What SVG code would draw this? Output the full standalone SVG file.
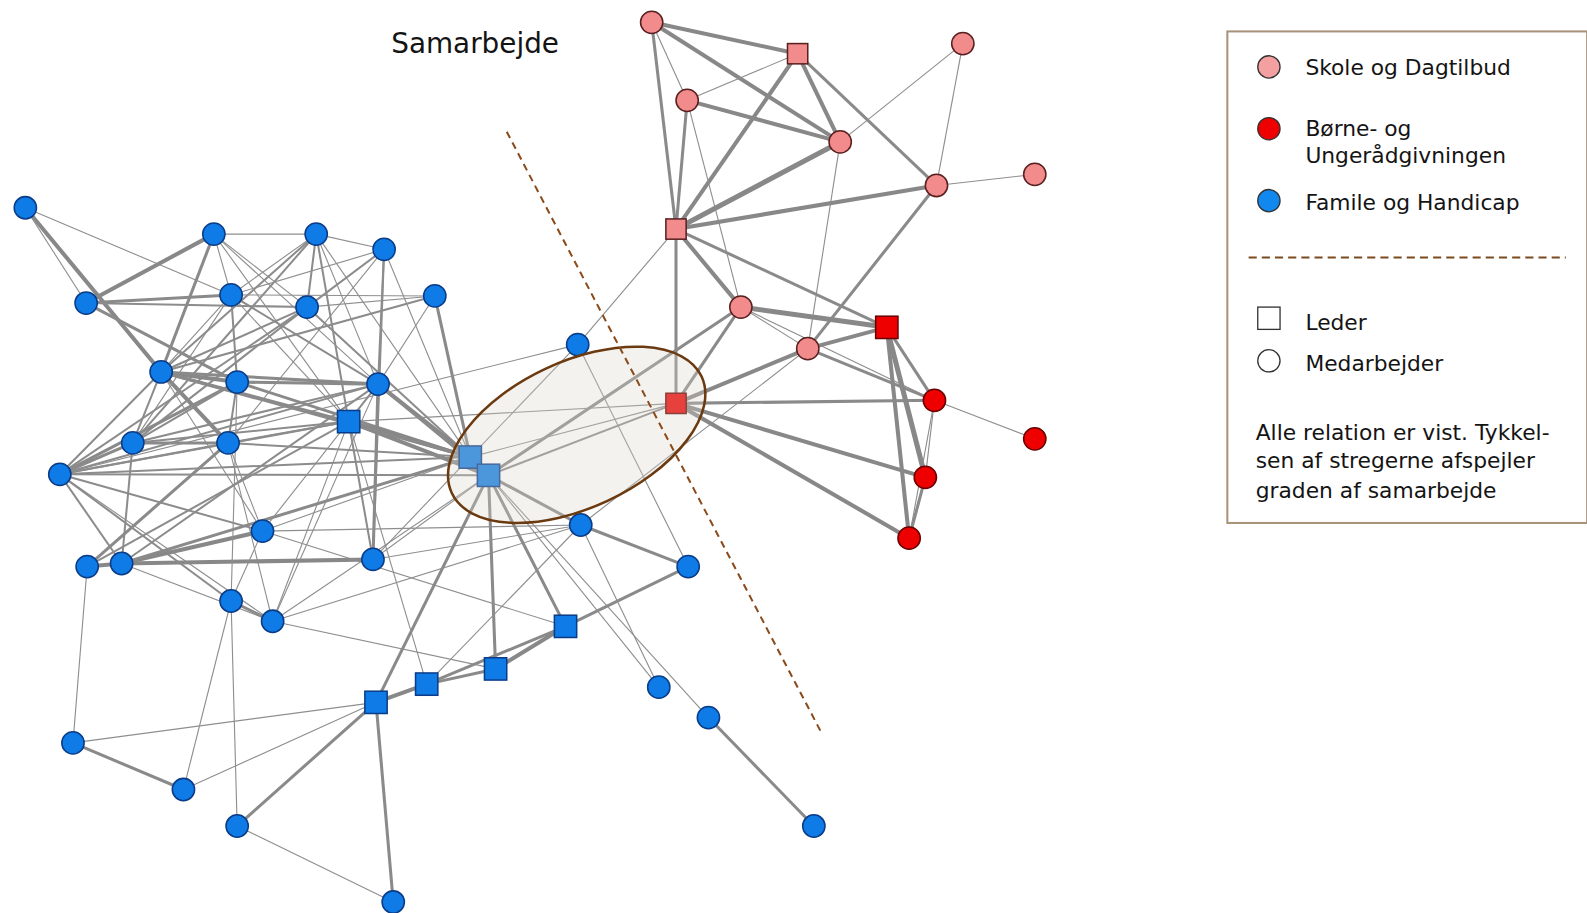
<svg xmlns="http://www.w3.org/2000/svg" width="1587" height="913" viewBox="0 0 1587 913">
<style>
.e1{stroke:#8e8e8e;stroke-width:1.1}
.e2{stroke:#8c8c8c;stroke-width:2}
.e3{stroke:#8a8a8a;stroke-width:3}
.e4{stroke:#888;stroke-width:4}
.e5{stroke:#888;stroke-width:5}
.bc{fill:#0f7be6;stroke:#0a3c88;stroke-width:1.5}
.pc{fill:#f28b8b;stroke:#5a2020;stroke-width:1.5}
.rc{fill:#ee0000;stroke:#6a0000;stroke-width:1.5}
.t{font-family:"DejaVu Sans","Open Sans",sans-serif;fill:#141414}
.lt{font-family:"DejaVu Sans","Open Sans",sans-serif;fill:#141414;font-size:21.5px}
</style>
<rect width="1587" height="913" fill="#fff"/>
<g transform="scale(1.0135)">
<text class="t" x="386" y="52" font-size="27.5">Samarbejde</text>
<g id="connectors">
<line class="e4" x1="25" y1="205" x2="159" y2="367"/>
<line class="e4" x1="159" y1="367" x2="225" y2="437"/>
<line class="e1" x1="25" y1="205" x2="85" y2="299"/>
<line class="e1" x1="25" y1="205" x2="228" y2="291"/>
<line class="e4" x1="211" y1="231" x2="85" y2="299"/>
<line class="e3" x1="211" y1="231" x2="159" y2="367"/>
<line class="e1" x1="211" y1="231" x2="312" y2="231"/>
<line class="e1" x1="211" y1="231" x2="228" y2="291"/>
<line class="e1" x1="211" y1="231" x2="303" y2="303"/>
<line class="e1" x1="211" y1="231" x2="373" y2="379"/>
<line class="e1" x1="211" y1="231" x2="344" y2="416"/>
<line class="e1" x1="312" y1="231" x2="379" y2="246"/>
<line class="e1" x1="312" y1="231" x2="228" y2="291"/>
<line class="e2" x1="312" y1="231" x2="303" y2="303"/>
<line class="e2" x1="312" y1="231" x2="159" y2="367"/>
<line class="e2" x1="312" y1="231" x2="131" y2="437"/>
<line class="e2" x1="312" y1="231" x2="344" y2="416"/>
<line class="e1" x1="312" y1="231" x2="373" y2="379"/>
<line class="e1" x1="312" y1="231" x2="464" y2="451"/>
<line class="e1" x1="379" y1="246" x2="228" y2="291"/>
<line class="e2" x1="379" y1="246" x2="303" y2="303"/>
<line class="e2" x1="379" y1="246" x2="373" y2="379"/>
<line class="e2" x1="379" y1="246" x2="368" y2="552"/>
<line class="e1" x1="379" y1="246" x2="225" y2="437"/>
<line class="e1" x1="379" y1="246" x2="464" y2="451"/>
<line class="e3" x1="85" y1="299" x2="228" y2="291"/>
<line class="e2" x1="85" y1="299" x2="303" y2="303"/>
<line class="e3" x1="85" y1="299" x2="234" y2="377"/>
<line class="e1" x1="228" y1="291" x2="429" y2="292"/>
<line class="e1" x1="228" y1="291" x2="159" y2="367"/>
<line class="e2" x1="228" y1="291" x2="234" y2="377"/>
<line class="e1" x1="228" y1="291" x2="131" y2="437"/>
<line class="e1" x1="228" y1="291" x2="344" y2="416"/>
<line class="e2" x1="228" y1="291" x2="373" y2="379"/>
<line class="e2" x1="303" y1="303" x2="159" y2="367"/>
<line class="e2" x1="303" y1="303" x2="131" y2="437"/>
<line class="e1" x1="303" y1="303" x2="429" y2="292"/>
<line class="e2" x1="303" y1="303" x2="464" y2="451"/>
<line class="e2" x1="303" y1="303" x2="59" y2="468"/>
<line class="e2" x1="429" y1="292" x2="159" y2="367"/>
<line class="e3" x1="429" y1="292" x2="464" y2="451"/>
<line class="e1" x1="429" y1="292" x2="373" y2="379"/>
<line class="e4" x1="159" y1="367" x2="234" y2="377"/>
<line class="e3" x1="159" y1="367" x2="373" y2="379"/>
<line class="e3" x1="159" y1="367" x2="344" y2="416"/>
<line class="e2" x1="159" y1="367" x2="131" y2="437"/>
<line class="e2" x1="159" y1="367" x2="59" y2="468"/>
<line class="e1" x1="159" y1="367" x2="259" y2="524"/>
<line class="e3" x1="234" y1="377" x2="373" y2="379"/>
<line class="e2" x1="234" y1="377" x2="225" y2="437"/>
<line class="e3" x1="234" y1="377" x2="59" y2="468"/>
<line class="e2" x1="234" y1="377" x2="131" y2="437"/>
<line class="e3" x1="234" y1="377" x2="464" y2="451"/>
<line class="e2" x1="373" y1="379" x2="344" y2="416"/>
<line class="e4" x1="373" y1="379" x2="464" y2="451"/>
<line class="e3" x1="373" y1="379" x2="482" y2="469"/>
<line class="e2" x1="373" y1="379" x2="131" y2="437"/>
<line class="e2" x1="373" y1="379" x2="59" y2="468"/>
<line class="e3" x1="373" y1="379" x2="368" y2="552"/>
<line class="e2" x1="373" y1="379" x2="120" y2="556"/>
<line class="e4" x1="344" y1="416" x2="464" y2="451"/>
<line class="e4" x1="344" y1="416" x2="482" y2="469"/>
<line class="e2" x1="344" y1="416" x2="131" y2="437"/>
<line class="e2" x1="344" y1="416" x2="225" y2="437"/>
<line class="e2" x1="344" y1="416" x2="59" y2="468"/>
<line class="e2" x1="344" y1="416" x2="86" y2="559"/>
<line class="e1" x1="344" y1="416" x2="259" y2="524"/>
<line class="e2" x1="344" y1="416" x2="368" y2="552"/>
<line class="e1" x1="344" y1="416" x2="269" y2="613"/>
<line class="e1" x1="344" y1="416" x2="667" y2="398"/>
<line class="e3" x1="131" y1="437" x2="225" y2="437"/>
<line class="e3" x1="131" y1="437" x2="59" y2="468"/>
<line class="e2" x1="131" y1="437" x2="120" y2="556"/>
<line class="e2" x1="225" y1="437" x2="59" y2="468"/>
<line class="e2" x1="225" y1="437" x2="464" y2="451"/>
<line class="e1" x1="225" y1="437" x2="259" y2="524"/>
<line class="e3" x1="225" y1="437" x2="86" y2="559"/>
<line class="e1" x1="225" y1="437" x2="269" y2="613"/>
<line class="e2" x1="59" y1="468" x2="464" y2="451"/>
<line class="e2" x1="59" y1="468" x2="482" y2="469"/>
<line class="e2" x1="59" y1="468" x2="259" y2="524"/>
<line class="e1" x1="59" y1="468" x2="269" y2="613"/>
<line class="e2" x1="59" y1="468" x2="228" y2="593"/>
<line class="e2" x1="59" y1="468" x2="120" y2="556"/>
<line class="e4" x1="86" y1="559" x2="120" y2="556"/>
<line class="e1" x1="86" y1="559" x2="72" y2="733"/>
<line class="e4" x1="120" y1="556" x2="259" y2="524"/>
<line class="e4" x1="120" y1="556" x2="368" y2="552"/>
<line class="e3" x1="120" y1="556" x2="464" y2="451"/>
<line class="e1" x1="120" y1="556" x2="269" y2="613"/>
<line class="e1" x1="259" y1="524" x2="228" y2="593"/>
<line class="e1" x1="259" y1="524" x2="464" y2="451"/>
<line class="e1" x1="259" y1="524" x2="558" y2="618"/>
<line class="e1" x1="368" y1="552" x2="464" y2="451"/>
<line class="e1" x1="368" y1="552" x2="482" y2="469"/>
<line class="e1" x1="368" y1="552" x2="573" y2="518"/>
<line class="e3" x1="228" y1="593" x2="269" y2="613"/>
<line class="e1" x1="228" y1="593" x2="234" y2="815"/>
<line class="e1" x1="228" y1="593" x2="234" y2="377"/>
<line class="e1" x1="228" y1="593" x2="181" y2="779"/>
<line class="e1" x1="269" y1="613" x2="482" y2="469"/>
<line class="e1" x1="269" y1="613" x2="489" y2="660"/>
<line class="e1" x1="269" y1="613" x2="373" y2="379"/>
<line class="e1" x1="72" y1="733" x2="371" y2="693"/>
<line class="e3" x1="72" y1="733" x2="181" y2="779"/>
<line class="e1" x1="181" y1="779" x2="371" y2="693"/>
<line class="e3" x1="234" y1="815" x2="371" y2="693"/>
<line class="e1" x1="234" y1="815" x2="388" y2="890"/>
<line class="e3" x1="388" y1="890" x2="371" y2="693"/>
<line class="e4" x1="371" y1="693" x2="421" y2="675"/>
<line class="e3" x1="421" y1="675" x2="489" y2="660"/>
<line class="e3" x1="421" y1="675" x2="558" y2="618"/>
<line class="e4" x1="489" y1="660" x2="558" y2="618"/>
<line class="e3" x1="558" y1="618" x2="679" y2="559"/>
<line class="e3" x1="558" y1="618" x2="482" y2="469"/>
<line class="e3" x1="489" y1="660" x2="482" y2="469"/>
<line class="e3" x1="371" y1="693" x2="482" y2="469"/>
<line class="e1" x1="421" y1="675" x2="344" y2="416"/>
<line class="e1" x1="421" y1="675" x2="573" y2="518"/>
<line class="e1" x1="482" y1="469" x2="650" y2="678"/>
<line class="e1" x1="573" y1="518" x2="650" y2="678"/>
<line class="e1" x1="482" y1="469" x2="699" y2="708"/>
<line class="e3" x1="699" y1="708" x2="803" y2="815"/>
<line class="e3" x1="482" y1="469" x2="573" y2="518"/>
<line class="e3" x1="573" y1="518" x2="679" y2="559"/>
<line class="e1" x1="573" y1="518" x2="259" y2="524"/>
<line class="e1" x1="573" y1="518" x2="269" y2="613"/>
<line class="e1" x1="570" y1="340" x2="464" y2="451"/>
<line class="e1" x1="570" y1="340" x2="59" y2="468"/>
<line class="e1" x1="570" y1="340" x2="679" y2="559"/>
<line class="e2" x1="482" y1="469" x2="667" y2="398"/>
<line class="e3" x1="482" y1="469" x2="731" y2="303"/>
<line class="e1" x1="464" y1="451" x2="667" y2="398"/>
<line class="e1" x1="573" y1="518" x2="797" y2="344"/>
<line class="e1" x1="667" y1="226" x2="570" y2="340"/>
<line class="e3" x1="159" y1="367" x2="464" y2="451"/>
<line class="e4" x1="643" y1="22" x2="787" y2="53"/>
<line class="e4" x1="643" y1="22" x2="829" y2="140"/>
<line class="e3" x1="643" y1="22" x2="667" y2="226"/>
<line class="e1" x1="643" y1="22" x2="678" y2="99"/>
<line class="e1" x1="787" y1="53" x2="678" y2="99"/>
<line class="e4" x1="787" y1="53" x2="829" y2="140"/>
<line class="e4" x1="787" y1="53" x2="667" y2="226"/>
<line class="e3" x1="787" y1="53" x2="924" y2="183"/>
<line class="e4" x1="678" y1="99" x2="829" y2="140"/>
<line class="e3" x1="678" y1="99" x2="667" y2="226"/>
<line class="e1" x1="678" y1="99" x2="731" y2="303"/>
<line class="e1" x1="829" y1="140" x2="950" y2="43"/>
<line class="e5" x1="829" y1="140" x2="667" y2="226"/>
<line class="e1" x1="829" y1="140" x2="797" y2="344"/>
<line class="e1" x1="950" y1="43" x2="924" y2="183"/>
<line class="e1" x1="924" y1="183" x2="1021" y2="172"/>
<line class="e4" x1="924" y1="183" x2="667" y2="226"/>
<line class="e3" x1="924" y1="183" x2="797" y2="344"/>
<line class="e3" x1="667" y1="226" x2="667" y2="398"/>
<line class="e4" x1="667" y1="226" x2="731" y2="303"/>
<line class="e3" x1="667" y1="226" x2="875" y2="323"/>
<line class="e5" x1="731" y1="303" x2="875" y2="323"/>
<line class="e3" x1="731" y1="303" x2="667" y2="398"/>
<line class="e1" x1="731" y1="303" x2="797" y2="344"/>
<line class="e1" x1="731" y1="303" x2="922" y2="395"/>
<line class="e4" x1="797" y1="344" x2="875" y2="323"/>
<line class="e4" x1="797" y1="344" x2="667" y2="398"/>
<line class="e3" x1="797" y1="344" x2="922" y2="395"/>
<line class="e3" x1="667" y1="398" x2="922" y2="395"/>
<line class="e4" x1="667" y1="398" x2="913" y2="471"/>
<line class="e4" x1="667" y1="398" x2="897" y2="531"/>
<line class="e3" x1="875" y1="323" x2="922" y2="395"/>
<line class="e5" x1="875" y1="323" x2="913" y2="471"/>
<line class="e4" x1="875" y1="323" x2="897" y2="531"/>
<line class="e1" x1="922" y1="395" x2="913" y2="471"/>
<line class="e3" x1="913" y1="471" x2="897" y2="531"/>
<line class="e1" x1="922" y1="395" x2="897" y2="531"/>
<line class="e1" x1="922" y1="395" x2="1021" y2="433"/>
</g>
<g id="n-B1"><circle class="bc" cx="25" cy="205" r="11"/></g>
<g id="n-B2"><circle class="bc" cx="211" cy="231" r="11"/></g>
<g id="n-B3"><circle class="bc" cx="312" cy="231" r="11"/></g>
<g id="n-B4"><circle class="bc" cx="379" cy="246" r="11"/></g>
<g id="n-B5"><circle class="bc" cx="85" cy="299" r="11"/></g>
<g id="n-B6"><circle class="bc" cx="228" cy="291" r="11"/></g>
<g id="n-B7"><circle class="bc" cx="303" cy="303" r="11"/></g>
<g id="n-B8"><circle class="bc" cx="429" cy="292" r="11"/></g>
<g id="n-B9"><circle class="bc" cx="159" cy="367" r="11"/></g>
<g id="n-B10"><circle class="bc" cx="234" cy="377" r="11"/></g>
<g id="n-B11"><circle class="bc" cx="373" cy="379" r="11"/></g>
<g id="n-B12"><circle class="bc" cx="131" cy="437" r="11"/></g>
<g id="n-B13"><circle class="bc" cx="225" cy="437" r="11"/></g>
<g id="n-B14"><circle class="bc" cx="59" cy="468" r="11"/></g>
<g id="n-B15"><circle class="bc" cx="259" cy="524" r="11"/></g>
<g id="n-B16"><circle class="bc" cx="368" cy="552" r="11"/></g>
<g id="n-B17"><circle class="bc" cx="86" cy="559" r="11"/></g>
<g id="n-B18"><circle class="bc" cx="120" cy="556" r="11"/></g>
<g id="n-B19"><circle class="bc" cx="228" cy="593" r="11"/></g>
<g id="n-B20"><circle class="bc" cx="269" cy="613" r="11"/></g>
<g id="n-B21"><circle class="bc" cx="570" cy="340" r="11"/></g>
<g id="n-B22"><circle class="bc" cx="573" cy="518" r="11"/></g>
<g id="n-B23"><circle class="bc" cx="679" cy="559" r="11"/></g>
<g id="n-B24"><circle class="bc" cx="650" cy="678" r="11"/></g>
<g id="n-B25"><circle class="bc" cx="699" cy="708" r="11"/></g>
<g id="n-B26"><circle class="bc" cx="72" cy="733" r="11"/></g>
<g id="n-B27"><circle class="bc" cx="181" cy="779" r="11"/></g>
<g id="n-B28"><circle class="bc" cx="234" cy="815" r="11"/></g>
<g id="n-B29"><circle class="bc" cx="388" cy="890" r="11"/></g>
<g id="n-B30"><circle class="bc" cx="803" cy="815" r="11"/></g>
<g id="n-S1"><rect class="bc" x="333" y="405" width="22" height="22"/></g>
<g id="n-S2"><rect class="bc" x="453" y="440" width="22" height="22"/></g>
<g id="n-S3"><rect class="bc" x="471" y="458" width="22" height="22"/></g>
<g id="n-S4"><rect class="bc" x="547" y="607" width="22" height="22"/></g>
<g id="n-S5"><rect class="bc" x="478" y="649" width="22" height="22"/></g>
<g id="n-S6"><rect class="bc" x="410" y="664" width="22" height="22"/></g>
<g id="n-S7"><rect class="bc" x="360" y="682" width="22" height="22"/></g>
<g id="n-P1"><circle class="pc" cx="643" cy="22" r="11"/></g>
<g id="n-P2"><circle class="pc" cx="950" cy="43" r="11"/></g>
<g id="n-P3"><circle class="pc" cx="678" cy="99" r="11"/></g>
<g id="n-P4"><circle class="pc" cx="829" cy="140" r="11"/></g>
<g id="n-P5"><circle class="pc" cx="924" cy="183" r="11"/></g>
<g id="n-P6"><circle class="pc" cx="1021" cy="172" r="11"/></g>
<g id="n-P7"><circle class="pc" cx="731" cy="303" r="11"/></g>
<g id="n-P8"><circle class="pc" cx="797" cy="344" r="11"/></g>
<g id="n-PS1"><rect class="pc" x="777" y="43" width="20" height="20"/></g>
<g id="n-PS2"><rect class="pc" x="657" y="216" width="20" height="20"/></g>
<g id="n-RS1"><rect class="rc" x="657" y="388" width="20" height="20"/></g>
<g id="n-RS2"><rect class="rc" x="864" y="312" width="22" height="22"/></g>
<g id="n-R1"><circle class="rc" cx="922" cy="395" r="11"/></g>
<g id="n-R2"><circle class="rc" cx="913" cy="471" r="11"/></g>
<g id="n-R3"><circle class="rc" cx="897" cy="531" r="11"/></g>
<g id="n-R4"><circle class="rc" cx="1021" cy="433" r="11"/></g>
<g id="highlight">
<ellipse cx="569" cy="429" rx="136" ry="72" transform="rotate(-25 569 429)" fill="#dcd5c7" fill-opacity="0.3" stroke="#6b3a10" stroke-width="2.5"/>
</g>
<line id="divider" x1="500" y1="130" x2="811" y2="724" stroke="#8b4a1a" stroke-width="2" stroke-dasharray="7,5"/>
<g id="legend">
<rect x="1211" y="31" width="355" height="485" fill="#fff" stroke="#a8927a" stroke-width="2"/>
<circle cx="1252" cy="66" r="11" fill="#f4a0a0" stroke="#333" stroke-width="1.3"/>
<text class="lt" x="1288" y="74">Skole og Dagtilbud</text>
<circle cx="1252" cy="127" r="11" fill="#ee0000" stroke="#333" stroke-width="1.3"/>
<text class="lt" x="1288" y="134">Børne- og</text>
<text class="lt" x="1288" y="161">Ungerådgivningen</text>
<circle cx="1252" cy="198" r="11" fill="#1088ee" stroke="#333" stroke-width="1.3"/>
<text class="lt" x="1288" y="207">Famile og Handicap</text>
<line x1="1232" y1="254" x2="1545" y2="254" stroke="#7a4a1e" stroke-width="2" stroke-dasharray="8,5"/>
<rect x="1241" y="303" width="22" height="22" fill="#fff" stroke="#333" stroke-width="1.3"/>
<text class="lt" x="1288" y="326">Leder</text>
<circle cx="1252" cy="356" r="11" fill="#fff" stroke="#333" stroke-width="1.3"/>
<text class="lt" x="1288" y="366">Medarbejder</text>
<text class="lt" x="1239" y="434">Alle relation er vist. Tykkel-</text>
<text class="lt" x="1239" y="462">sen af stregerne afspejler</text>
<text class="lt" x="1239" y="491">graden af samarbejde</text>
</g>
</g>
</svg>
